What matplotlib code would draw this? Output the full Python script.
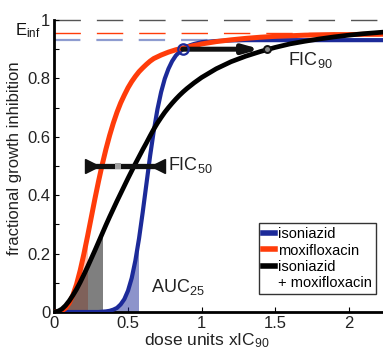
import numpy as np
import matplotlib
matplotlib.use('Agg')
import matplotlib.pyplot as plt
from matplotlib.lines import Line2D
from matplotlib.patches import Rectangle

plt.rcParams['font.family'] = ['Liberation Sans', 'DejaVu Sans']
plt.rcParams['mathtext.fontset'] = 'custom'
plt.rcParams['mathtext.rm'] = 'Liberation Sans'
plt.rcParams['mathtext.it'] = 'Liberation Sans:italic'

# ---- data ----
dose = [0.000, 0.025, 0.050, 0.075, 0.100, 0.125, 0.150, 0.175, 0.200, 0.225,
        0.250, 0.275, 0.300, 0.325, 0.350, 0.375, 0.400, 0.425, 0.450, 0.475,
        0.500, 0.525, 0.550, 0.575, 0.600, 0.625, 0.650, 0.675, 0.700, 0.725,
        0.750, 0.775, 0.800, 0.825, 0.850, 0.875, 0.900, 0.925, 0.950, 0.975,
        1.000, 1.1, 1.2, 1.3, 1.4, 1.5, 1.6, 1.7, 1.8, 1.9, 2.0, 2.1, 2.2, 2.3]
isoniazid = [0.000, 0.000, 0.000, 0.000, 0.000, 0.000, 0.000, 0.000, 0.000, 0.000,
             0.000, 0.000, 0.000, 0.001, 0.002, 0.004, 0.008, 0.014, 0.026, 0.044,
             0.073, 0.116, 0.176, 0.252, 0.342, 0.438, 0.534, 0.620, 0.694, 0.753,
             0.799, 0.833, 0.859, 0.878, 0.891, 0.901, 0.909, 0.914, 0.918, 0.921,
             0.924, 0.928, 0.930, 0.931, 0.931, 0.931, 0.931, 0.931, 0.931, 0.931,
             0.931, 0.931, 0.931, 0.931]
moxifloxacin = [0.000, 0.000, 0.004, 0.013, 0.030, 0.058, 0.095, 0.143, 0.199, 0.260,
                0.324, 0.388, 0.449, 0.506, 0.558, 0.605, 0.647, 0.684, 0.716, 0.743,
                0.768, 0.789, 0.807, 0.823, 0.836, 0.848, 0.859, 0.868, 0.874, 0.880,
                0.885, 0.890, 0.894, 0.898, 0.901, 0.904, 0.907, 0.910, 0.913, 0.915,
                0.918, 0.926, 0.932, 0.937, 0.941, 0.944, 0.946, 0.948, 0.949, 0.950,
                0.950, 0.951, 0.951, 0.952]
combination = [0.000, 0.003, 0.010, 0.022, 0.038, 0.057, 0.078, 0.102, 0.128, 0.155,
               0.183, 0.211, 0.240, 0.269, 0.298, 0.326, 0.353, 0.380, 0.406, 0.432,
               0.458, 0.483, 0.508, 0.532, 0.556, 0.579, 0.603, 0.626, 0.647, 0.666,
               0.684, 0.700, 0.715, 0.729, 0.742, 0.754, 0.765, 0.775, 0.785, 0.794,
               0.803, 0.833, 0.857, 0.876, 0.892, 0.906, 0.918, 0.927, 0.935, 0.942,
               0.948, 0.953, 0.957, 0.961]
einf_levels = [1.0, 0.954, 0.931]          # combination, moxifloxacin, isoniazid
auc25_ends = [0.566, 0.219, 0.321]         # isoniazid, moxifloxacin, combination
fic90_start = (0.872, 0.9)
fic90_end = (1.444, 0.9)
fic50_range = [0.22, 0.73]
fic50_caps = [0.253, 0.703]
fic50_value = 0.432
legend_labels = ['isoniazid', 'moxifloxacin', 'isoniazid', '+ moxifloxacin']
xtick_vals = [0, 0.5, 1, 1.5, 2]
xtick_labels = ['0', '0.5', '1', '1.5', '2']
ytick_labels = ['0', '', '0.2', '', '0.4', '', '0.6', '', '0.8', '', '1']

C_BLUE = '#1c2a99'
C_RED = '#ff3c0a'
C_BLACK = '#000000'

fig = plt.figure(figsize=(3.83, 3.52), dpi=100)
ax = fig.add_axes([54.5/383, 40/352, (383-54.5)/383, 292/352])
ax.set_xlim(0, 2.234)
ax.set_ylim(0, 1)

for lev, col, lw in zip(einf_levels, ['#555555', C_RED, '#8e9cd0'], [1.0, 1.0, 1.6]):
    ax.axhline(lev, color=col, lw=lw, ls=(0, (19/lw, 11.5/lw)), clip_on=False, zorder=1)

for y, xe, col, a in [(isoniazid, auc25_ends[0], C_BLUE, 0.5),
                      (moxifloxacin, auc25_ends[1], C_RED, 0.3),
                      (combination, auc25_ends[2], '#000000', 0.5)]:
    p = ax.fill_between(dose, 0, y, color=col, alpha=a, lw=0, zorder=2)
    p.set_clip_path(Rectangle((0, 0), xe, 1.1, transform=ax.transData))

ax.plot(dose, isoniazid, color=C_BLUE, lw=3.0, zorder=3)
ax.plot(dose, moxifloxacin, color=C_RED, lw=3.6, zorder=4)
ax.plot(dose, combination, color=C_BLACK, lw=3.4, zorder=5)

# FIC90
ax.annotate('', xy=(fic90_end[0] - 0.044, fic90_end[1]), xytext=fic90_start,
            arrowprops=dict(arrowstyle='-|>,head_length=0.9,head_width=0.25', lw=3.6,
                            color='#111111', shrinkA=0, shrinkB=0), zorder=6)
ax.plot([fic90_start[0]], [fic90_start[1]], 'o', ms=7.5, mfc='none', mec=C_BLUE, mew=1.6, zorder=7)
ax.plot([fic90_end[0]], [fic90_end[1]], 'o', ms=5, mfc='#888888', mec='#111111', mew=1.4, zorder=7)
ax.text(1.588, 0.846, 'FIC$_{90}$', fontsize=13, va='baseline', color='#222222')

# FIC50
ax.plot(fic50_range, [0.5, 0.5], color='#111111', lw=3.8, zorder=6, solid_capstyle='butt')
ax.plot([fic50_caps[0]], [0.5], '>', ms=9.5, color='#111111', zorder=7)
ax.plot([fic50_caps[1]], [0.5], '<', ms=9.5, color='#111111', zorder=7)
ax.plot([fic50_value], [0.5], 's', ms=4.5, color='#a0a0a0', mew=0, zorder=8)
ax.text(0.772, 0.486, 'FIC$_{50}$', fontsize=13, va='baseline', color='#222222')

ax.text(0.656, 0.0685, 'AUC$_{25}$', fontsize=13, va='baseline', color='#222222')

for s in ['top', 'right']:
    ax.spines[s].set_visible(False)
for s in ['left', 'bottom']:
    ax.spines[s].set_linewidth(2.0)
ax.set_xticks(xtick_vals)
ax.set_xticklabels(xtick_labels)
ax.set_yticks(np.linspace(0, 1, 11))
ax.set_yticklabels(ytick_labels)
ax.tick_params(direction='in', length=3.6, width=0.8, labelsize=12, labelcolor='#222222', pad=3)

fig.text(207/383, 1-345/352, 'dose units xIC$_{90}$', fontsize=12.5, ha='center', va='baseline', color='#222222')
fig.text(15/383, 1-158/352, 'fractional growth inhibition', fontsize=12, rotation=90,
         ha='center', va='center', color='#222222')
fig.text(15/383, 1-35/352, 'E$_{\\mathrm{inf}}$', fontsize=12, ha='left', va='baseline', color='#111111')

handles = [Line2D([], [], color=C_BLUE, lw=4), Line2D([], [], color=C_RED, lw=4),
           Line2D([], [], color='k', lw=4), Line2D([], [], color='none')]
leg = ax.legend(handles, legend_labels, loc='upper left', bbox_to_anchor=(0.6225, 0.305), fontsize=10.5,
                frameon=True, fancybox=False, edgecolor='k', handlelength=0.8, handletextpad=0.2,
                borderpad=0.3, labelspacing=0.15, borderaxespad=0)
leg.get_frame().set_linewidth(1.0)
leg.set_zorder(10)

fig.savefig('out.png', dpi=100)
